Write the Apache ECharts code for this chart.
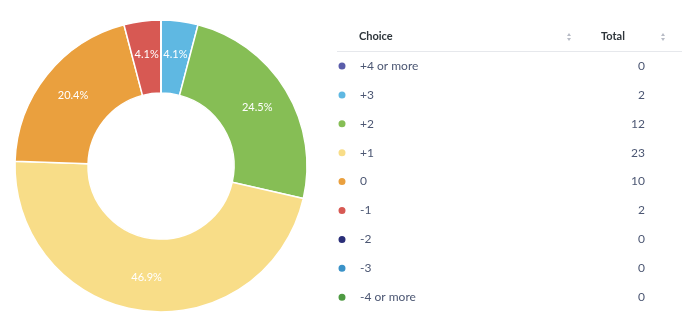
<!DOCTYPE html>
<html><head><meta charset="utf-8">
<script src="https://cdn.jsdelivr.net/npm/echarts@6/dist/echarts.min.js"></script>
<style>html,body{margin:0;padding:0;background:#fff}#c{width:690px;height:325px}</style>
</head><body><div id="c"></div>
<script>
var categories = ['+4 or more', '+3', '+2', '+1', '0', '-1', '-2', '-3', '-4 or more'];
var totals = [0, 2, 12, 23, 10, 2, 0, 0, 0];
var colors = ['#5A5DAA', '#5FB8E2', '#86BE55', '#F8DD88', '#EAA03E', '#D75953', '#2A2E78', '#3A92C8', '#4E9A42'];
var headers = ['Choice', 'Total'];

var sum = totals.reduce(function (a, b) { return a + b; }, 0);
var data = categories.map(function (c, i) {
  return { name: c, value: totals[i], itemStyle: { color: colors[i] } };
});
var totalMap = {};
categories.forEach(function (c, i) { totalMap[c] = totals[i]; });

function sortIcon(x, y) {
  return [
    { type: 'polygon', shape: { points: [[x - 2, y - 1], [x + 2, y - 1], [x, y - 4]] }, style: { fill: '#b8bcc6' } },
    { type: 'polygon', shape: { points: [[x - 2, y + 1], [x + 2, y + 1], [x, y + 4]] }, style: { fill: '#b8bcc6' } }
  ];
}

var chart = echarts.init(document.getElementById('c'));
chart.setOption({
  animation: false,
  legend: {
    orient: 'vertical',
    left: 336.5, top: 60,
    padding: 0,
    itemWidth: 9, itemHeight: 9,
    itemGap: 16.9,
    icon: 'circle',
    selectedMode: false,
    data: categories,
    formatter: function (name) { return '{n|' + name + '}{v|' + totalMap[name] + '}'; },
    textStyle: {
      rich: {
        n: { width: 261, padding: [0, 0, 0, 8.5], fontFamily: 'Lato', fontSize: 12, color: '#4C5773', lineHeight: 14 },
        v: { width: 24, align: 'right', fontFamily: 'Lato', fontSize: 12, color: '#4C5773', lineHeight: 14 }
      }
    }
  },
  graphic: [
    { type: 'text', left: 359, top: 31, style: { text: headers[0], font: 'bold 11px Lato', fill: '#2E353B' } },
    { type: 'text', left: 601, top: 31, style: { text: headers[1], font: 'bold 11px Lato', fill: '#2E353B' } },
    { type: 'line', shape: { x1: 337, y1: 51.5, x2: 682, y2: 51.5 }, style: { stroke: '#E6E8EC', lineWidth: 1 } }
  ].concat(sortIcon(569, 37)).concat(sortIcon(663, 37)),
  series: [{
    type: 'pie',
    center: [161, 166],
    radius: [73, 146],
    startAngle: 90,
    clockwise: true,
    avoidLabelOverlap: false,
    itemStyle: { borderColor: '#fff', borderWidth: 1.5 },
    label: {
      show: true,
      position: 'inside',
      color: '#fff',
      fontFamily: 'Lato',
      fontSize: 11,
      formatter: function (p) {
        if (!p.value) return '';
        return (p.value / sum * 100).toFixed(1) + '%';
      }
    },
    labelLine: { show: false },
    emphasis: { disabled: true },
    data: data
  }]
});
</script></body></html>
